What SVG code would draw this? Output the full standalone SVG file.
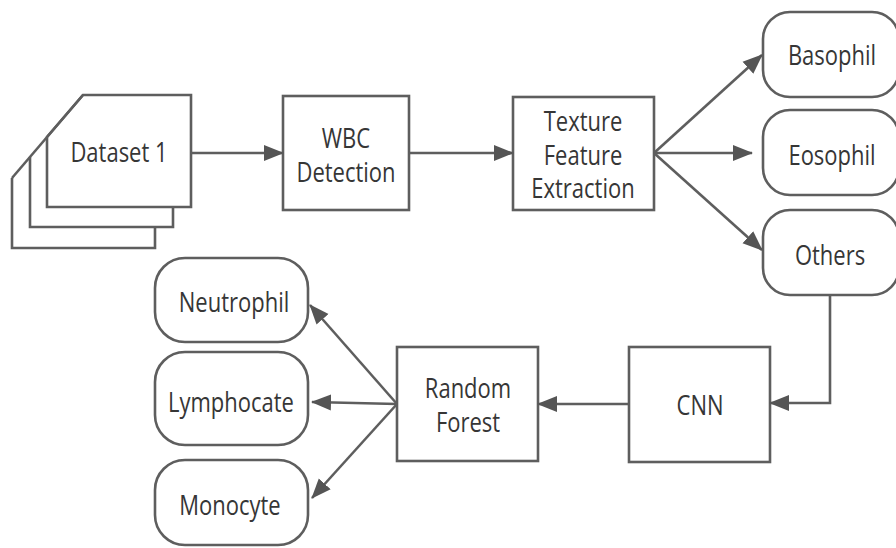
<svg xmlns="http://www.w3.org/2000/svg" width="896" height="548" viewBox="0 0 896 548">
  <style>
    .box { fill: #ffffff; stroke: #5e5e5e; stroke-width: 2.6; }
    .sheet { fill: none; stroke: #5e5e5e; stroke-width: 2.6; }
    .edge { fill: none; stroke: #5e5e5e; stroke-width: 2.6; marker-end: url(#arrow); }
    .lbl { font-family: "Open Sans", "Noto Sans", sans-serif; font-size: 22px; fill: #363636; text-anchor: middle; }
  </style>
  <defs>
    <marker id="arrow" markerUnits="userSpaceOnUse" markerWidth="20" markerHeight="18" viewBox="0 0 20 18" refX="19" refY="9" orient="auto">
      <path d="M0,1 L20,9 L0,17 Z" fill="#555555"/>
    </marker>
  </defs>
  <rect width="896" height="548" fill="#ffffff"/>

  <!-- stacked dataset sheets -->
  <g id="dataset">
    <polyline class="sheet" points="12,178 12,248 155,248 155,227"/>
    <polyline class="sheet" points="30,157 30,227 173,227 173,207"/>
    <polygon class="box" points="83,95 191,95 191,207 47,207 47,137"/>
    <line class="sheet" x1="83" y1="95" x2="12" y2="178"/>
    <text class="lbl" transform="translate(119,162) scale(1,1.2)">Dataset 1</text>
  </g>

  <g id="wbc">
    <rect class="box" x="283" y="96" width="126" height="114"/>
    <text class="lbl" transform="translate(346,148) scale(1,1.2)">WBC</text>
    <text class="lbl" transform="translate(346,182) scale(1,1.2)">Detection</text>
  </g>

  <g id="texture">
    <rect class="box" x="513" y="97" width="141" height="113"/>
    <text class="lbl" transform="translate(583,131) scale(1,1.2)">Texture</text>
    <text class="lbl" transform="translate(583,165) scale(1,1.2)">Feature</text>
    <text class="lbl" transform="translate(583,198) scale(1,1.2)">Extraction</text>
  </g>

  <g id="basophil">
    <rect class="box" x="763" y="12" width="136" height="85" rx="27"/>
    <text class="lbl" transform="translate(832,65) scale(1,1.2)">Basophil</text>
  </g>
  <g id="eosophil">
    <rect class="box" x="763" y="110" width="136" height="85" rx="27"/>
    <text class="lbl" transform="translate(832,165) scale(1,1.2)">Eosophil</text>
  </g>
  <g id="others">
    <rect class="box" x="763" y="210" width="136" height="85" rx="27"/>
    <text class="lbl" transform="translate(830,265) scale(1,1.2)">Others</text>
  </g>

  <g id="cnn">
    <rect class="box" x="629" y="347" width="141" height="115"/>
    <text class="lbl" transform="translate(700,415) scale(1,1.2)">CNN</text>
  </g>

  <g id="random-forest">
    <rect class="box" x="397" y="347" width="141" height="114"/>
    <text class="lbl" transform="translate(468,398) scale(1,1.2)">Random</text>
    <text class="lbl" transform="translate(468,432) scale(1,1.2)">Forest</text>
  </g>

  <g id="neutrophil">
    <rect class="box" x="155" y="258" width="153" height="84" rx="30"/>
    <text class="lbl" transform="translate(234,312) scale(1,1.2)">Neutrophil</text>
  </g>
  <g id="lymphocate">
    <rect class="box" x="155" y="352" width="153" height="93" rx="30"/>
    <text class="lbl" transform="translate(231,412) scale(1,1.2)">Lymphocate</text>
  </g>
  <g id="monocyte">
    <rect class="box" x="155" y="460" width="153" height="85" rx="30"/>
    <text class="lbl" transform="translate(230,515) scale(1,1.2)">Monocyte</text>
  </g>

  <!-- connectors -->
  <g id="connectors">
    <line class="edge" x1="191" y1="153" x2="283" y2="153"/>
    <line class="edge" x1="409" y1="153" x2="513" y2="153"/>
    <line class="edge" x1="654" y1="153" x2="762" y2="55"/>
    <line class="edge" x1="654" y1="153" x2="752" y2="153"/>
    <line class="edge" x1="654" y1="153" x2="762" y2="250"/>
    <polyline class="edge" points="830,295 830,403 770,403"/>
    <line class="edge" x1="629" y1="404" x2="538" y2="404"/>
    <line class="edge" x1="397" y1="404" x2="310" y2="305"/>
    <line class="edge" x1="397" y1="404" x2="312" y2="402"/>
    <line class="edge" x1="397" y1="404" x2="312" y2="498"/>
  </g>
</svg>
